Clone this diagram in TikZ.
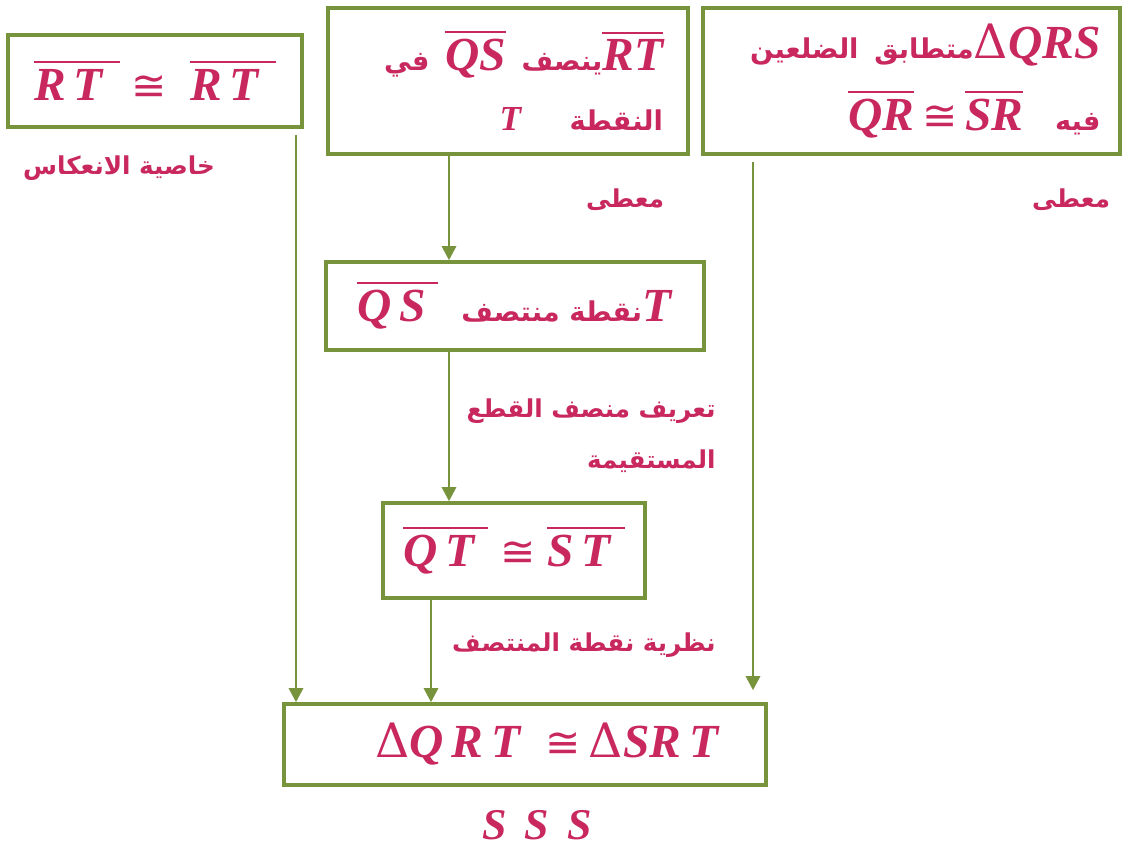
\documentclass[tikz,border=0pt]{standalone}
\usepackage{fontspec}
\setmainfont{Liberation Serif}
\newfontfamily\arabicfont[Script=Arabic]{DejaVu Sans}
\newfontfamily\signfont{DejaVu Sans}
\newfontfamily\greekfont{DejaVu Serif}
\usetikzlibrary{arrows.meta,positioning}
\TeXXeTstate=1
\definecolor{proofRed}{HTML}{C8285E}
\definecolor{boxGreen}{HTML}{77933C}

\newcommand\arb[1]{{\arabicfont\bfseries\beginR #1\endR}}
\newcommand\boxar[1]{{\fontsize{15.5}{18}\selectfont\arb{#1}}}
\newcommand\segbar[1]{\vbox{\hrule height 1.2pt\kern 3.5pt\hbox{\bfseries\itshape #1}}}
\newcommand\congsym{{\signfont\fontsize{24}{26}\selectfont ≅}}
\newcommand\trisym{{\greekfont Δ}}

\begin{document}
\begin{tikzpicture}[
    font=\fontsize{27}{32}\selectfont,
    stmtBox/.style={
        rectangle, draw=boxGreen, line width=2pt,
        text=proofRed, inner xsep=0.15cm, inner ysep=0.1cm,
        align=center
    },
    reason/.style={
        text=proofRed, inner sep=0pt,
        font=\fontsize{14}{29}\selectfont, align=right
    },
    flow/.style={-{Triangle[width=8pt,length=8pt]}, draw=boxGreen, line width=1.6pt}
]
\useasboundingbox (0,0) rectangle (22.56,-17.08);

% given statements on top
\node[stmtBox, minimum width=5.88cm, minimum height=1.84cm] (Refl) at (3.10,-1.62)
  {\segbar{R\,T\hspace{0.35em}}\ \congsym\ \ \segbar{R\,T\hspace{0.35em}}};
\node[stmtBox, text width=6.2cm, inner xsep=0.5cm, minimum height=2.92cm, align=right] (Bisect) at (10.16,-1.62)
  {\mbox{\boxar{في}\ \segbar{QS}\ \boxar{ينصف}\segbar{RT}}\\[2pt]
   \mbox{{\fontsize{20}{22}\selectfont\textbf{\textit{T}}}\ \ \ \boxar{النقطة}}};
\node[stmtBox, text width=7.56cm, inner xsep=0.39cm, minimum height=2.92cm, align=right] (Isos) at (18.23,-1.62)
  {\mbox{\boxar{متطابق الضلعين}\trisym\textbf{\textit{QRS}}}\\[9pt]
   \mbox{\segbar{QR}\,\congsym\,\segbar{SR}\ \ \boxar{فيه}}};

% middle chain
\node[stmtBox, minimum width=7.56cm, minimum height=1.76cm] (Mid) at (10.30,-6.12)
  {\segbar{Q\,S\hspace{0.25em}}\ \ \boxar{نقطة منتصف}\textbf{\textit{T}}};
\node[stmtBox, minimum width=5.24cm, minimum height=1.90cm] (Halves) at (10.28,-11.01)
  {\segbar{Q\,T\hspace{0.3em}}\ \congsym\ \segbar{S\,T\hspace{0.3em}}};
\node[stmtBox, minimum width=9.64cm, minimum height=1.62cm] (Result) at (10.50,-14.89)
  {\hspace*{0.9cm}\trisym\textbf{\textit{Q\,R\,T}}\ \ \congsym\,\trisym\textbf{\textit{SR\,T}}};

% reasons
\node[reason] (ReflWhy) at (2.38,-3.36) {\arb{خاصية الانعكاس}};
\node[reason] (GivenB) at (12.50,-4.00) {\arb{معطى}};
\node[reason] (GivenC) at (21.42,-4.00) {\arb{معطى}};
\node[reason, anchor=east] (DefWhy) at (14.32,-8.72)
  {\arb{تعريف منصف القطع}\\\arb{المستقيمة}};
\node[reason, anchor=east] (ThmWhy) at (14.32,-12.90) {\arb{نظرية نقطة المنتصف}};
\node[text=proofRed, font=\fontsize{25}{28}\selectfont] (SSS) at (10.74,-16.50)
  {\textbf{\textit{S\, S\, S}}};

\coordinate (reflX) at (5.92,0);
\coordinate (chainX) at (8.98,0);
\coordinate (thmX) at (8.62,0);
\coordinate (givX) at (15.06,0);

\draw[flow, shorten <=0.12cm] (Refl.south -| reflX) -- (Result.north -| reflX);
\draw[flow] (Bisect.south -| chainX) -- (Mid.north -| chainX);
\draw[flow] (Mid.south -| chainX) -- (Halves.north -| chainX);
\draw[flow] (Halves.south -| thmX) -- (Result.north -| thmX);
\draw[flow, shorten <=0.12cm, shorten >=0.24cm] (Isos.south -| givX) -- (Result.north -| givX);

\end{tikzpicture}
\end{document}
